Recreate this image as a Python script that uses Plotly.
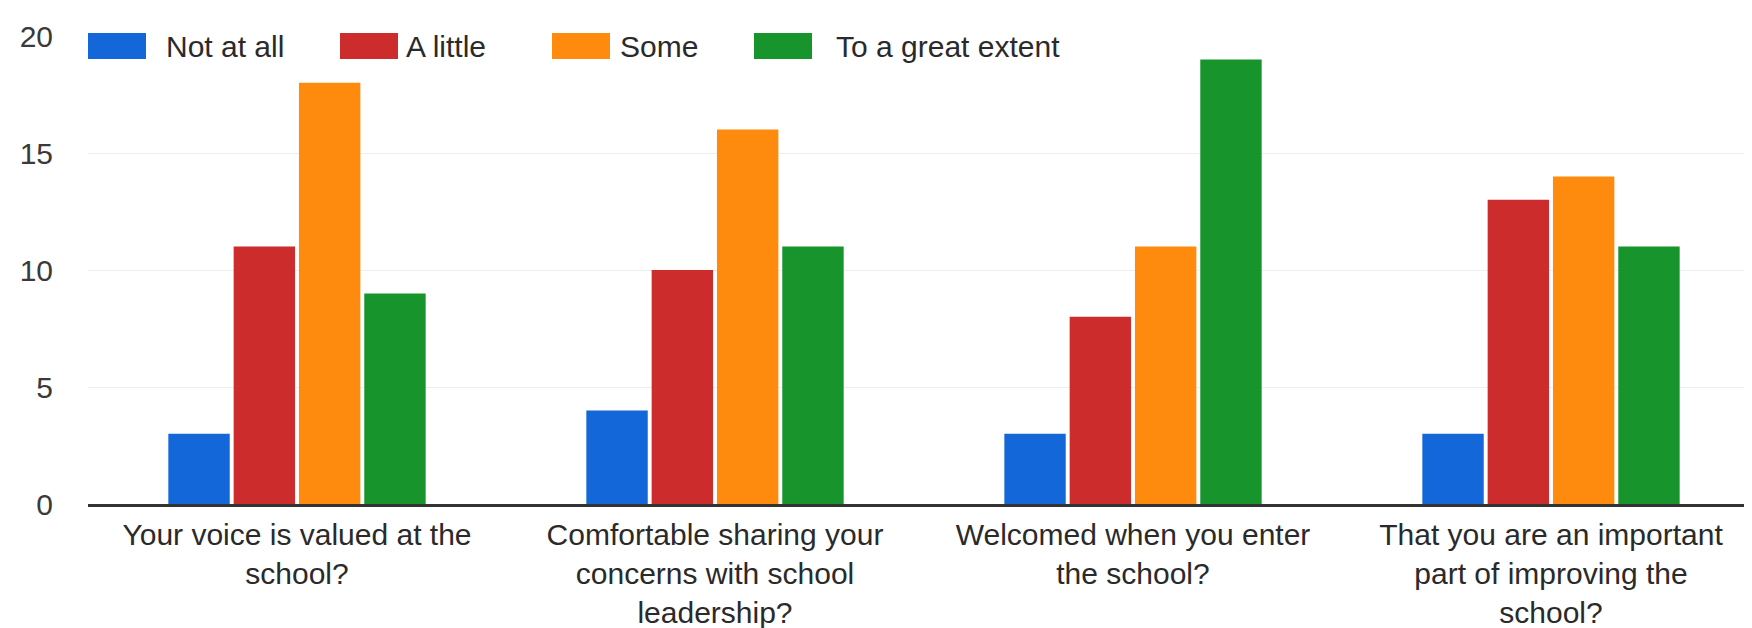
import plotly.graph_objects as go

# ---- data ----
categories = [
    "Your voice is valued at the<br>school?",
    "Comfortable sharing your<br>concerns with school<br>leadership?",
    "Welcomed when you enter<br>the school?",
    "That you are an important<br>part of improving the<br>school?",
]
series_names = ["Not at all", "A little", "Some", "To a great extent"]
not_at_all = [3, 4, 3, 3]
a_little = [11, 10, 8, 13]
some = [18, 16, 11, 14]
great_extent = [9, 11, 19, 11]
y_ticks = [0, 5, 10, 15, 20]

series_values = [not_at_all, a_little, some, great_extent]

# ---- style ----
colors = ["#1467d8", "#cd2c2c", "#ff8b0e", "#17952c"]
FONT = "Liberation Sans, Arial, sans-serif"
W, H = 1752, 628
ML, MR, MT, MB = 80, 0, 28, 132
PW, PH = W - ML - MR, H - MT - MB

fig = go.Figure()
for name, vals, col in zip(series_names, series_values, colors):
    fig.add_trace(go.Bar(x=categories, y=vals, name=name, marker_color=col,
                         marker_line_width=0, showlegend=False))

def px_x(p):
    return (p - ML) / PW

def px_y(p):
    return (H - MB - p) / PH

# custom legend (wide swatches as in the reference)
leg_swatch_x = [80, 332, 544, 746]
leg_text_x = [156, 396, 610, 826]
shapes = []
annotations = []
for i, name in enumerate(series_names):
    shapes.append(dict(type="rect", xref="paper", yref="paper",
                       x0=px_x(leg_swatch_x[i]), x1=px_x(leg_swatch_x[i] + 58),
                       y0=px_y(51), y1=px_y(25),
                       fillcolor=colors[i], line_width=0, layer="above"))
    annotations.append(dict(text=name, xref="paper", yref="paper",
                            x=px_x(leg_text_x[i]), y=px_y(38),
                            xanchor="left", yanchor="middle", showarrow=False,
                            font=dict(family=FONT, size=30, color="#2a2a2a")))

fig.update_layout(
    width=W, height=H,
    margin=dict(l=ML, r=MR, t=MT, b=MB),
    paper_bgcolor="white", plot_bgcolor="white",
    barmode="group", bargap=0.375, bargroupgap=0.06,
    font=dict(family=FONT, size=30, color="#2a2a2a"),
    shapes=shapes, annotations=annotations,
    xaxis=dict(showgrid=False, showline=True, linecolor="#333333", linewidth=3,
               ticks="", tickfont=dict(size=30, color="#2a2a2a"),
               ticklabelstandoff=2),
    yaxis=dict(range=[0, 20], tickvals=y_ticks, showgrid=True,
               gridcolor="#eeeeee", gridwidth=1, zeroline=False,
               showline=False, ticks="", ticklabelstandoff=34,
               tickfont=dict(size=30, color="#3a3a3a")),
)

fig.write_html("out.html")
